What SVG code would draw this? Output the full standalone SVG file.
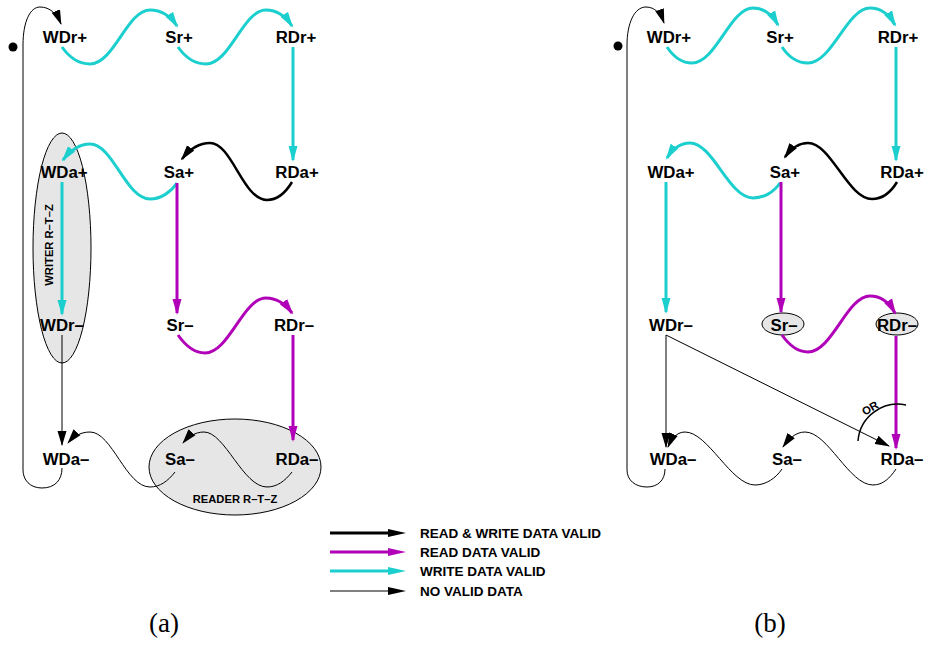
<svg xmlns="http://www.w3.org/2000/svg" width="927" height="645" viewBox="0 0 927 645">
  <style>
    .lbl { font-family: "Liberation Sans", Arial, sans-serif; font-weight: bold; font-size: 16.8px; fill: #000; text-anchor: middle; }
    .small { font-family: "Liberation Sans", Arial, sans-serif; font-weight: bold; font-size: 11.2px; fill: #000; text-anchor: middle; }
    .leg { font-family: "Liberation Sans", Arial, sans-serif; font-weight: bold; font-size: 13.5px; fill: #000; }
    .cap { font-family: "Liberation Serif", "Times New Roman", serif; font-size: 27px; fill: #000; text-anchor: middle; }
    .zone { fill: #e6e6e6; stroke: #000; stroke-width: 1; }
    .cy { fill: none; stroke: #1ccfcf; stroke-width: 3; marker-end: url(#ah-cy); }
    .mg { fill: none; stroke: #b000b8; stroke-width: 3; marker-end: url(#ah-mg); }
    .bk { fill: none; stroke: #000; stroke-width: 2.5; marker-end: url(#ah-bk); }
    .th { fill: none; stroke: #000; stroke-width: 1; marker-end: url(#ah-th); }
  </style>
  <defs>
    <marker id="ah-cy" markerUnits="userSpaceOnUse" markerWidth="16" markerHeight="10" refX="14" refY="5" orient="auto">
      <path d="M0,0.5 L16,5 L0,9.5 z" fill="#1ccfcf"/>
    </marker>
    <marker id="ah-mg" markerUnits="userSpaceOnUse" markerWidth="16" markerHeight="10" refX="14" refY="5" orient="auto">
      <path d="M0,0.5 L16,5 L0,9.5 z" fill="#b000b8"/>
    </marker>
    <marker id="ah-bk" markerUnits="userSpaceOnUse" markerWidth="16" markerHeight="10" refX="14" refY="5" orient="auto">
      <path d="M0,0.5 L16,5 L0,9.5 z" fill="#000"/>
    </marker>
    <marker id="ah-th" markerUnits="userSpaceOnUse" markerWidth="15" markerHeight="10" refX="14" refY="5" orient="auto">
      <path d="M0,0.5 L15,5 L0,9.5 z" fill="#000"/>
    </marker>
  </defs>

  <!-- ===================== Panel (a) ===================== -->
  <g id="a-zones">
    <ellipse id="a-writer-rtz" class="zone" cx="62" cy="248" rx="29" ry="115"/>
    <ellipse id="a-reader-rtz" class="zone" cx="235" cy="467" rx="86" ry="48"/>
    <text class="small" transform="translate(53,245) rotate(-90)">WRITER R–T–Z</text>
    <text class="small" x="235" y="503">READER R–T–Z</text>
  </g>

  <g id="a-connectors">
    <circle cx="13" cy="47" r="4.5" fill="#000"/>
    <!-- return loop WDa- to WDr+ -->
    <path class="th" d="M62,468 C62,480 55,488 42,488 C30,488 23,480 23,470 L23,45 C23,22 30,7 40,7 C50,7 57,14 61,24"/>
    <path class="cy" d="M62,47 C69,57 79,64 90,64 C114,64 127,10 150,10 C162,10 171,17 177,26"/>
    <path class="cy" d="M178,47 C185,57 195,64 206,64 C230,64 243,10 266,10 C278,10 286,17 292,26"/>
    <path class="cy" d="M293,47 L293,160"/>
    <path class="bk" d="M292,182 C286,192 277,200 267,200 C243,200 232,143 210,143 C199,143 189,150 182,159"/>
    <path class="cy" d="M177,183 C171,192 161,199 150,199 C126,199 113,144 90,144 C79,144 70,151 63,160"/>
    <path class="cy" d="M62,182 L62,314"/>
    <path class="mg" d="M177,183 L177,313"/>
    <path class="mg" d="M178,335 C185,345 194,353 205,353 C229,353 243,298 266,298 C277,298 286,305 292,313"/>
    <path class="mg" d="M293,335 L293,440"/>
    <path class="th" d="M62,335 L62,445"/>
    <path class="th" d="M175,472 C168,481 160,487 150,487 C126,487 112,432 90,432 C80,432 73,437 68,443"/>
    <path class="th" d="M292,472 C285,481 277,487 267,487 C243,487 225,432 204,432 C195,432 188,437 183,443"/>
  </g>

  <g id="a-WDr-plus"><text class="lbl" x="65" y="43">WDr+</text></g>
  <g id="a-Sr-plus"><text class="lbl" x="179" y="43">Sr+</text></g>
  <g id="a-RDr-plus"><text class="lbl" x="296" y="43">RDr+</text></g>
  <g id="a-WDa-plus"><text class="lbl" x="64" y="178">WDa+</text></g>
  <g id="a-Sa-plus"><text class="lbl" x="179" y="178">Sa+</text></g>
  <g id="a-RDa-plus"><text class="lbl" x="297" y="178">RDa+</text></g>
  <g id="a-WDr-minus"><text class="lbl" x="62" y="331">WDr–</text></g>
  <g id="a-Sr-minus"><text class="lbl" x="180" y="331">Sr–</text></g>
  <g id="a-RDr-minus"><text class="lbl" x="294" y="331">RDr–</text></g>
  <g id="a-WDa-minus"><text class="lbl" x="66" y="465">WDa–</text></g>
  <g id="a-Sa-minus"><text class="lbl" x="180" y="465">Sa–</text></g>
  <g id="a-RDa-minus"><text class="lbl" x="297" y="465">RDa–</text></g>

  <!-- ===================== Panel (b) ===================== -->
  <g id="b-zones">
    <ellipse class="zone" cx="783" cy="324" rx="21" ry="11"/>
    <ellipse class="zone" cx="897" cy="324" rx="21" ry="11"/>
  </g>

  <g id="b-connectors">
    <circle cx="618" cy="46" r="4.5" fill="#000"/>
    <path class="th" d="M665,469 C665,480 658,487 647,487 C635,487 627,480 627,470 L627,45 C627,24 634,7 646,7 C655,7 661,14 664,23"/>
    <path class="cy" d="M667,47 C673,56 682,63 692,63 C716,63 730,8 753,8 C765,8 773,16 778,25"/>
    <path class="cy" d="M782,47 C788,56 797,63 808,63 C832,63 847,8 870,8 C882,8 890,16 895,25"/>
    <path class="cy" d="M896,47 L896,160"/>
    <path class="bk" d="M897,182 C891,192 882,199 872,199 C848,199 831,143 808,143 C797,143 790,150 785,157"/>
    <path class="cy" d="M780,183 C774,192 764,198 753,198 C729,198 713,143 690,143 C679,143 672,150 667,158"/>
    <path class="cy" d="M666,182 L666,312"/>
    <path class="mg" d="M781,182 L781,312"/>
    <path class="mg" d="M782,335 C789,345 798,352 808,352 C832,352 847,296 870,296 C882,296 890,304 895,313"/>
    <path class="mg" d="M896,336 L896,448"/>
    <path class="th" d="M666,335 L666,447"/>
    <path class="th" d="M666,335 L889,446"/>
    <path class="th" d="M782,469 C776,478 766,485 755,485 C731,485 708,432 685,432 C676,432 671,440 668,447"/>
    <path class="th" d="M896,469 C890,478 883,485 873,485 C849,485 828,432 805,432 C795,432 788,440 783,447"/>
    <!-- OR junction -->
    <path d="M858,441 A40,40 0 0 1 906,405" fill="none" stroke="#000" stroke-width="1.5"/>
    <text class="small" transform="translate(870,408) rotate(-30)" y="4">OR</text>
  </g>

  <g id="b-WDr-plus"><text class="lbl" x="669" y="43">WDr+</text></g>
  <g id="b-Sr-plus"><text class="lbl" x="780" y="43">Sr+</text></g>
  <g id="b-RDr-plus"><text class="lbl" x="898" y="43">RDr+</text></g>
  <g id="b-WDa-plus"><text class="lbl" x="671" y="178">WDa+</text></g>
  <g id="b-Sa-plus"><text class="lbl" x="785" y="178">Sa+</text></g>
  <g id="b-RDa-plus"><text class="lbl" x="902" y="178">RDa+</text></g>
  <g id="b-WDr-minus"><text class="lbl" x="671" y="331">WDr–</text></g>
  <g id="b-Sr-minus"><text class="lbl" x="784" y="331">Sr–</text></g>
  <g id="b-RDr-minus"><text class="lbl" x="897" y="331">RDr–</text></g>
  <g id="b-WDa-minus"><text class="lbl" x="673" y="465">WDa–</text></g>
  <g id="b-Sa-minus"><text class="lbl" x="787" y="465">Sa–</text></g>
  <g id="b-RDa-minus"><text class="lbl" x="902" y="465">RDa–</text></g>

  <!-- ===================== Legend ===================== -->
  <g id="legend">
    <line x1="330" y1="533" x2="390" y2="533" stroke="#000" stroke-width="3"/>
    <polygon points="388,529 406,533 388,537" fill="#000"/>
    <line x1="330" y1="552" x2="390" y2="552" stroke="#b000b8" stroke-width="3"/>
    <polygon points="388,548 406,552 388,556" fill="#b000b8"/>
    <line x1="330" y1="571" x2="390" y2="571" stroke="#1ccfcf" stroke-width="3"/>
    <polygon points="388,567 406,571 388,575" fill="#1ccfcf"/>
    <line x1="330" y1="591" x2="390" y2="591" stroke="#000" stroke-width="1.2"/>
    <polygon points="388,587 406,591 388,595" fill="#000"/>
    <text class="leg" x="420" y="538">READ &amp; WRITE DATA VALID</text>
    <text class="leg" x="420" y="557">READ DATA VALID</text>
    <text class="leg" x="420" y="576">WRITE DATA VALID</text>
    <text class="leg" x="420" y="596">NO VALID DATA</text>
  </g>

  <text class="cap" x="164" y="632">(a)</text>
  <text class="cap" x="770" y="632">(b)</text>
</svg>
